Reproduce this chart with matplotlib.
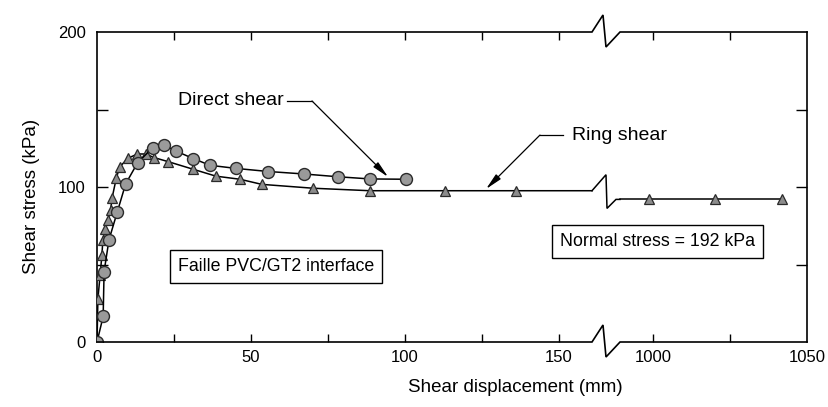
import numpy as np
import matplotlib
matplotlib.use("Agg")
import matplotlib.pyplot as plt
from matplotlib import font_manager

# ---------------- data ----------------
direct_x = [0, 2.0, 2.3, 3.9, 6.6, 9.3, 13.2, 18.1, 21.9, 25.6, 31.3, 36.7, 45.1, 55.6, 67.2, 78.3, 88.6, 100.3]
direct_y = [0, 16.5, 45.4, 66, 84, 102, 115.7, 125.4, 126.9, 123.2, 118.3, 114, 112, 110, 108.4, 106.6, 105.2, 105]

ring_x_left = [0, 0.3, 1.0, 1.6, 1.9, 2.7, 3.6, 4.4, 4.9, 6.3, 7.4, 10.0, 13.1, 15.8, 18.5, 23.2,
               31.3, 38.6, 46.4, 53.5, 70.2, 88.6, 113, 136]
ring_y_left = [0, 28, 43, 56, 66, 73, 79, 85, 93, 106, 113, 118.5, 121.3, 121.3, 119, 116.3,
               111.4, 107, 105, 101.7, 99.2, 97.6, 97.6, 97.6]
ring_x_right = [998.7, 1020, 1042]
ring_y_right = [92, 92, 92]

x_major_ticks = [0, 50, 100, 150, 1000, 1050]
x_minor_ticks = [25, 75, 125, 1025]
y_major_ticks = [0, 100, 200]
y_minor_ticks = [50, 150]

L_END, R_START, GAP = 160.7, 989.3, 9.1

# ---------------- fonts ----------------
avail = {f.name for f in font_manager.fontManager.ttflist}
main_font = "Liberation Sans" if "Liberation Sans" in avail else "DejaVu Sans"
narrow_font = "Liberation Sans Narrow" if "Liberation Sans Narrow" in avail else main_font
plt.rcParams["font.family"] = [main_font, "DejaVu Sans"]


def fwd(x):
    x = np.asarray(x, dtype=float)
    mid = L_END + (x - L_END) * GAP / (R_START - L_END)
    return np.where(x <= L_END, x, np.where(x >= R_START, x - R_START + L_END + GAP, mid))


def inv(u):
    u = np.asarray(u, dtype=float)
    mid = L_END + (u - L_END) * (R_START - L_END) / GAP
    return np.where(u <= L_END, u, np.where(u >= L_END + GAP, u - L_END - GAP + R_START, mid))


fig = plt.figure(figsize=(8.29, 4.07), dpi=100)
ax = fig.add_axes([97 / 829, 65 / 407, 710 / 829, 310 / 407])
ax.set_xscale("function", functions=(fwd, inv))
ax.set_xlim(0, 1050)
ax.set_ylim(0, 200)

lw = 1.1
circ = dict(marker="o", markersize=8.6, markerfacecolor="#9a9a9a", markeredgecolor="#2a2a2a",
            markeredgewidth=1.0)
tri = dict(marker="^", markersize=7.5, markerfacecolor="#8c8c8c", markeredgecolor="#2a2a2a",
           markeredgewidth=0.9)

# ring shear: line extended to the break
ax.plot(list(ring_x_left) + [L_END], list(ring_y_left) + [ring_y_left[-1]], color="k", lw=lw, zorder=2)
ax.plot([R_START] + list(ring_x_right), [ring_y_right[0]] + list(ring_y_right), color="k", lw=lw, zorder=2)
ax.plot(ring_x_left, ring_y_left, ls="none", zorder=3, **tri)
ax.plot(ring_x_right, ring_y_right, ls="none", zorder=3, **tri)
# direct shear
ax.plot(direct_x, direct_y, color="k", lw=lw, zorder=4, **circ)

# ticks
ax.set_xticks(x_major_ticks)
ax.set_xticklabels([str(t) for t in x_major_ticks])
ax.set_xticks(x_minor_ticks, minor=True)
ax.set_yticks(y_major_ticks)
ax.set_yticklabels([str(t) for t in y_major_ticks])
ax.set_yticks(y_minor_ticks, minor=True)
ax.tick_params(axis="both", which="both", direction="in", top=True, right=True, width=1.0,
               labelsize=12, color="k")
ax.tick_params(axis="x", which="both", length=6, pad=6)
ax.tick_params(axis="y", which="both", length=8, pad=8)
for lab in ax.get_xticklabels() + ax.get_yticklabels():
    lab.set_fontfamily(narrow_font)
# hide ticks at the spine ends
for t in ax.xaxis.get_major_ticks():
    if t.get_loc() in (0, 1050):
        t.tick1line.set_visible(False)
        t.tick2line.set_visible(False)
for t in ax.yaxis.get_major_ticks():
    if t.get_loc() in (0, 200):
        t.tick1line.set_visible(False)
        t.tick2line.set_visible(False)

for s in ("left", "right"):
    ax.spines[s].set_linewidth(1.2)
ax.spines["top"].set_visible(False)
ax.spines["bottom"].set_visible(False)

ax.set_xlabel("Shear displacement (mm)", fontsize=13.5)
ax.xaxis.set_label_coords(0.589, -0.12)
ax.set_ylabel("Shear stress (kPa)", fontsize=13.5)
ax.yaxis.set_label_coords(-0.08, 0.47)

# ---------------- broken axis drawing ----------------
fig.canvas.draw()
to_disp = ax.transData.transform
to_fig = fig.transFigure.inverted().transform
xb0 = to_disp((L_END, 0))[0]
xb1 = to_disp((R_START, 0))[0]
x_left = to_disp((0, 0))[0]
x_right = to_disp((1050, 0))[0]


def draw_disp(pts, **kw):
    p = to_fig(np.array(pts, dtype=float))
    fig.add_artist(plt.Line2D(p[:, 0], p[:, 1], color="k", solid_joinstyle="miter", **kw))


for yv in (0, 200):
    yd = to_disp((0, yv))[1]
    draw_disp([(x_left, yd), (xb0, yd), (xb0 + 11, yd + 17), (xb0 + 14, yd - 15), (xb1, yd), (x_right, yd)],
              lw=1.2)

yl = to_disp((0, ring_y_left[-1]))[1]
yr = to_disp((0, ring_y_right[0]))[1]
draw_disp([(xb0, yl), (xb0 + 14, yl + 16), (xb0 + 15, yr - 9), (xb0 + 24, yr), (xb1, yr)], lw=lw)

# ---------------- annotations ----------------
arrow_kw = dict(arrowstyle="-|>,head_length=1.0,head_width=0.2", color="k", lw=0.9,
                shrinkA=0, shrinkB=0, facecolor="#666")
ax.text(60.5, 155.5, "Direct shear", fontsize=14, ha="right", va="center")
ax.plot([61.7, 69.8], [155.5, 155.5], color="k", lw=0.9)
ax.annotate("", xy=(94.5, 106.5), xytext=(69.8, 155.5), arrowprops=arrow_kw)

ax.text(154.2, 133.5, "Ring shear", fontsize=14, ha="left", va="center")
ax.plot([151.3, 143.8], [133.5, 133.5], color="k", lw=0.9)
ax.annotate("", xy=(126.3, 98.7), xytext=(143.8, 133.5), arrowprops=arrow_kw)

box = dict(boxstyle="square,pad=0.45", facecolor="white", edgecolor="k", lw=1.0)
ax.text(0.252, 0.242, "Faille PVC/GT2 interface", transform=ax.transAxes, fontsize=12.8,
        ha="center", va="center", bbox=box)
ax.text(0.789, 0.3226, "Normal stress = 192 kPa", transform=ax.transAxes, fontsize=12.8,
        ha="center", va="center", bbox=box)

fig.savefig("out.png", dpi=100)
